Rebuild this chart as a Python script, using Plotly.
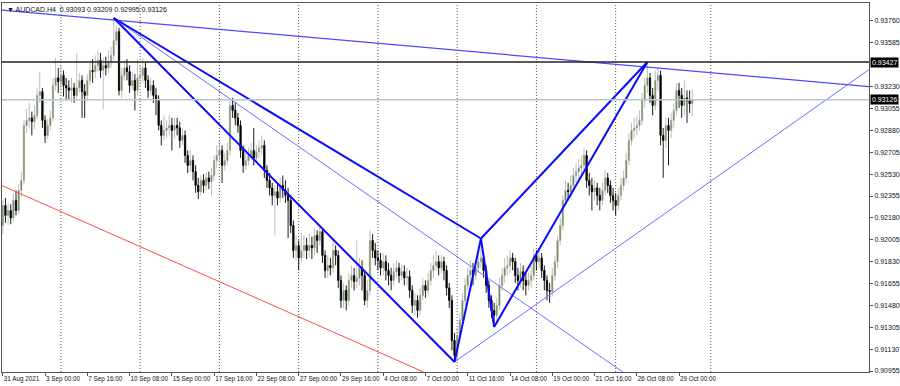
import plotly.graph_objects as go

# ---------------- data ----------------
first_open = 0.9212
closes = [
 .9228,.9220,.9224,.9218,.9232,.9224,.9240,.9248,.9292,.9296,
 .9298,.9295,.9300,.9316,.9319,.9296,.9284,.9292,.9298,.9324,
 .9330,.9327,.9332,.9324,.9322,.9320,.9322,.9316,.9322,.9328,
 .9319,.9316,.9328,.9336,.9335,.9340,.9344,.9336,.9340,.9338,
 .9343,.9348,.9360,.9367,.9320,.9332,.9338,.9335,.9324,.9328,
 .9320,.9330,.9332,.9338,.9328,.9320,.9324,.9316,.9312,.9292,
 .9284,.9288,.9290,.9292,.9288,.9292,.9290,.9280,.9284,.9268,
 .9260,.9264,.9255,.9244,.9239,.9248,.9244,.9250,.9247,.9252,
 .9264,.9268,.9272,.9260,.9264,.9272,.9308,.9304,.9298,.9292,
 .9272,.9260,.9264,.9268,.9272,.9266,.9271,.9274,.9276,.9256,
 .9248,.9242,.9236,.9239,.9234,.9244,.9240,.9236,.9232,.9212,
 .9192,.9196,.9186,.9192,.9196,.9192,.9196,.9194,.9204,.9200,
 .9207,.9188,.9176,.9180,.9178,.9192,.9188,.9168,.9152,.9160,
 .9152,.9168,.9172,.9167,.9170,.9178,.9172,.9152,.9160,.9200,
 .9192,.9186,.9184,.9178,.9183,.9176,.9172,.9168,.9175,.9178,
 .9172,.9175,.9170,.9171,.9160,.9148,.9152,.9144,.9156,.9164,
 .9160,.9168,.9176,.9180,.9183,.9178,.9183,.9176,.9162,.9152,
 .9120,.9108,.9124,.9136,.9152,.9164,.9172,.9176,.9172,.9178,
 .9183,.9186,.9176,.9164,.9152,.9144,.9140,.9148,.9164,.9172,
 .9178,.9180,.9186,.9183,.9172,.9168,.9175,.9168,.9164,.9168,
 .9172,.9188,.9183,.9186,.9176,.9168,.9160,.9159,.9172,.9183,
 .9200,.9212,.9232,.9240,.9239,.9244,.9252,.9255,.9258,.9260,
 .9268,.9248,.9244,.9239,.9242,.9236,.9232,.9240,.9250,.9244,
 .9236,.9232,.9228,.9236,.9244,.9250,.9264,.9280,.9288,.9290,
 .9292,.9296,.9312,.9324,.9330,.9316,.9308,.9328,.9332,.9284,
 .9280,.9292,.9288,.9296,.9304,.9320,.9316,.9308,.9314,.9312,
 .93093,.93126]
highs = [
 .9232,.9234,.9230,.9229,.9238,.9240,.9245,.9255,.9296,.9305,
 .9310,.9303,.9308,.9322,.9335,.9322,.9300,.9297,.9304,.9330,
 .9346,.9338,.9340,.9336,.9330,.9328,.9330,.9326,.9350,.9334,
 .9332,.9325,.9333,.9342,.9345,.9348,.9352,.9350,.9346,.9347,
 .9352,.9355,.9378,.9372,.9370,.9338,.9344,.9345,.9340,.9335,
 .9333,.9345,.9340,.9346,.9342,.9332,.9330,.9328,.9322,.9316,
 .9296,.9300,.9296,.9300,.9298,.9298,.9298,.9295,.9290,.9288,
 .9272,.9272,.9268,.9260,.9250,.9252,.9253,.9254,.9255,.9258,
 .9268,.9276,.9280,.9276,.9270,.9278,.9312,.9314,.9310,.9302,
 .9296,.9276,.9270,.9274,.9278,.9290,.9276,.9280,.9284,.9280,
 .9260,.9254,.9246,.9244,.9246,.9250,.9252,.9248,.9242,.9236,
 .9216,.9204,.9200,.9206,.9204,.9202,.9205,.9203,.9210,.9208,
 .9212,.9210,.9192,.9188,.9186,.9202,.9196,.9192,.9172,.9166,
 .9164,.9174,.9180,.9178,.9200,.9186,.9184,.9176,.9168,.9208,
 .9205,.9198,.9192,.9190,.9190,.9188,.9182,.9178,.9182,.9184,
 .9182,.9180,.9180,.9178,.9176,.9164,.9158,.9156,.9162,.9170,
 .9168,.9174,.9182,.9188,.9192,.9188,.9188,.9187,.9180,.9166,
 .9156,.9126,.9130,.9142,.9158,.9170,.9178,.9184,.9182,.9184,
 .9190,.9201,.9190,.9180,.9168,.9156,.9150,.9154,.9170,.9178,
 .9186,.9188,.9192,.9190,.9186,.9178,.9182,.9180,.9174,.9174,
 .9180,.9193,.9192,.9192,.9190,.9180,.9172,.9166,.9178,.9188,
 .9204,.9218,.9236,.9248,.9246,.9252,.9258,.9262,.9265,.9268,
 .9274,.9272,.9254,.9250,.9248,.9246,.9242,.9246,.9256,.9254,
 .9248,.9242,.9238,.9242,.9250,.9256,.9270,.9286,.9294,.9298,
 .9300,.9304,.9318,.9330,.93427,.9334,.9322,.9336,.9338,.9336,
 .9290,.9298,.9298,.9302,.9310,.9326,.9326,.9322,.9328,.9320,
 .9320,.93209]
lows = [
 .9205,.9214,.9212,.9213,.9215,.9220,.9221,.9235,.9245,.9286,
 .9290,.9284,.9289,.9297,.9310,.9290,.9278,.9281,.9288,.9295,
 .9320,.9318,.9320,.9315,.9312,.9313,.9310,.9310,.9312,.9318,
 .9298,.9298,.9312,.9324,.9326,.9330,.9335,.9330,.9305,.9332,
 .9334,.9338,.9344,.9356,.9316,.9314,.9328,.9328,.9318,.9320,
 .9304,.9316,.9324,.9326,.9322,.9314,.9316,.9310,.9300,.9288,
 .9276,.9280,.9282,.9284,.9272,.9282,.9284,.9274,.9276,.9262,
 .9254,.9255,.9248,.9238,.9233,.9236,.9238,.9240,.9241,.9236,
 .9248,.9258,.9262,.9246,.9256,.9260,.9268,.9298,.9292,.9286,
 .9266,.9254,.9256,.9260,.9264,.9260,.9262,.9266,.9268,.9250,
 .9242,.9236,.9228,.9204,.9228,.9230,.9234,.9230,.9202,.9206,
 .9186,.9184,.9176,.9182,.9186,.9185,.9186,.9185,.9188,.9190,
 .9196,.9182,.9170,.9170,.9172,.9174,.9180,.9162,.9146,.9146,
 .9144,.9148,.9162,.9160,.9162,.9164,.9160,.9148,.9146,.9156,
 .9186,.9180,.9176,.9172,.9172,.9168,.9164,.9160,.9164,.9170,
 .9166,.9168,.9164,.9164,.9154,.9142,.9140,.9138,.9140,.9152,
 .9154,.9156,.9164,.9170,.9176,.9172,.9174,.9168,.9156,.9146,
 .9112,.9103,.9104,.9120,.9130,.9148,.9160,.9166,.9164,.9168,
 .9174,.9178,.9170,.9158,.9146,.9138,.9131,.9134,.9144,.9160,
 .9166,.9172,.9174,.9176,.9166,.9160,.9162,.9160,.9156,.9160,
 .9162,.9168,.9176,.9178,.9170,.9160,.9152,.9150,.9155,.9168,
 .9178,.9196,.9208,.9228,.9232,.9234,.9240,.9246,.9248,.9252,
 .9255,.9242,.9236,.9224,.9232,.9228,.9224,.9228,.9236,.9238,
 .9230,.9224,.9220,.9224,.9232,.9240,.9246,.9260,.9276,.9282,
 .9284,.9288,.9292,.9306,.9318,.9310,.9300,.9304,.9320,.9276,
 .9250,.9274,.9260,.9282,.9290,.9300,.9306,.9298,.9300,.9294,
 .9302,.92995]

# x-axis labels (bar index -> text)
tick_idx = [0, 16, 32, 48, 64, 80, 96, 112, 128, 144, 160, 176, 192, 208, 224, 240, 256]
tick_text = ["31 Aug 2021", "3 Sep 00:00", "7 Sep 16:00", "10 Sep 08:00", "15 Sep 00:00",
             "17 Sep 16:00", "22 Sep 08:00", "27 Sep 00:00", "29 Sep 16:00", "4 Oct 08:00",
             "7 Oct 00:00", "11 Oct 16:00", "14 Oct 08:00", "19 Oct 00:00", "21 Oct 16:00",
             "26 Oct 08:00", "29 Oct 00:00"]
# weekly separators (bar index)
grid_idx = [22, 52, 82, 112, 142, 172, 202, 232, 268]
# price axis labels
price_ticks = [0.93760, 0.93585, 0.93230, 0.93055, 0.92880, 0.92705, 0.92530,
               0.92355, 0.92180, 0.92005, 0.91830, 0.91655, 0.91480, 0.91305, 0.91130, 0.90955]

# XABCD pattern points (bar index, price)
pat_names = ["X", "A", "B", "C", "D"]
pat_idx = [42, 171, 181, 186, 244]
pat_price = [0.93779, 0.91027, 0.92015, 0.91307, 0.93427]
thick_legs = [("X", "A"), ("A", "B"), ("B", "C"), ("C", "D"), ("X", "B"), ("B", "D")]

# other trend lines: (idx0, price0, idx1, price1)
top_line = (-1, 0.93843, 329, 0.93228)
red_line = (-1, 0.92445, 159.3, 0.90947)
thin_x_line = (42, 0.93779, 234.7, 0.90947)
thin_a_line = (171, 0.91027, 328.2, 0.93371)

level_line = 0.93427
bid_price = 0.93126
symbol = "AUDCAD,H4"
last_ohlc = [0.93093, 0.93209, 0.92995, 0.93126]

# ---------------- build ----------------
n = len(closes)
idx = list(range(n))
opens = [first_open] + closes[:-1]
highs = [max(h, o, c) for h, o, c in zip(highs, opens, closes)]
lows = [min(l, o, c) for l, o, c in zip(lows, opens, closes)]

fig = go.Figure()

fig.add_trace(go.Candlestick(
    x=idx, open=opens, high=highs, low=lows, close=closes,
    increasing=dict(line=dict(color="#a0a0a0", width=0.7), fillcolor="#4a8a12"),
    decreasing=dict(line=dict(color="#000000", width=0.9), fillcolor="#000000"),
    whiskerwidth=0, showlegend=False, hoverinfo="skip"))

def add_line(seg, color, width):
    fig.add_trace(go.Scatter(x=[seg[0], seg[2]], y=[seg[1], seg[3]], mode="lines",
                             line=dict(color=color, width=width), showlegend=False,
                             hoverinfo="skip"))

add_line(red_line, "#ff4a4a", 1)
add_line(top_line, "#4b4bff", 1.2)
add_line(thin_x_line, "#6e6eff", 1)
add_line(thin_a_line, "#6e6eff", 1)

pts = {k: (i, p) for k, i, p in zip(pat_names, pat_idx, pat_price)}
for a, b in thick_legs:
    add_line((pts[a][0], pts[a][1], pts[b][0], pts[b][1]), "#0a0aff", 2)

shapes = []
for g in grid_idx:
    shapes.append(dict(type="line", xref="x", yref="paper", x0=g, x1=g, y0=0, y1=1,
                       line=dict(color="#555555", width=1, dash="1px,2px"), layer="below"))
shapes.append(dict(type="line", xref="paper", yref="y", x0=0, x1=1, y0=bid_price, y1=bid_price,
                   line=dict(color="#b8c6d2", width=1.5), layer="above"))
shapes.append(dict(type="line", xref="paper", yref="y", x0=0, x1=1, y0=level_line, y1=level_line,
                   line=dict(color="#222222", width=1.6), layer="above"))
fig.update_layout(shapes=shapes)

font_fam = "Liberation Sans, Arial, sans-serif"
annotations = [
    dict(xref="paper", yref="paper", x=0, y=1, xanchor="left", yanchor="top",
         xshift=3, yshift=-1, showarrow=False,
         text="▼ " + symbol + "  " + " ".join(f"{v:.5f}" for v in last_ohlc),
         font=dict(family=font_fam, size=7, color="#111111")),
]
for val in (level_line, bid_price):
    annotations.append(dict(xref="paper", yref="y", x=1, y=val, xanchor="left", yanchor="middle",
                            xshift=1, showarrow=False, text=f"{val:.5f}",
                            bgcolor="#000000", borderpad=1,
                            font=dict(family=font_fam, size=7, color="#ffffff")))
fig.update_layout(annotations=annotations)

fig.update_layout(
    width=900, height=386,
    margin=dict(l=2, r=31, t=3, b=14, autoexpand=False),
    paper_bgcolor="white", plot_bgcolor="white",
    font=dict(family=font_fam, size=7, color="#111111"),
    xaxis=dict(range=[-0.3, 327.9], showgrid=False, zeroline=False,
               showline=True, mirror=True, linecolor="#555555", linewidth=1,
               ticks="outside", ticklen=3, tickcolor="#555555",
               tickvals=tick_idx, ticktext=tick_text, ticklabelposition="outside right",
               tickangle=0, automargin=False,
               tickfont=dict(size=6.3), rangeslider=dict(visible=False), fixedrange=True),
    yaxis=dict(range=[0.90947, 0.93899], side="right", showgrid=False, zeroline=False,
               showline=True, mirror=True, linecolor="#555555", linewidth=1,
               ticks="outside", ticklen=3, tickcolor="#555555", automargin=False,
               tickvals=price_ticks, ticktext=[f"{v:.5f}" for v in price_ticks],
               tickfont=dict(size=7), fixedrange=True),
)

fig.write_html("out.html")
